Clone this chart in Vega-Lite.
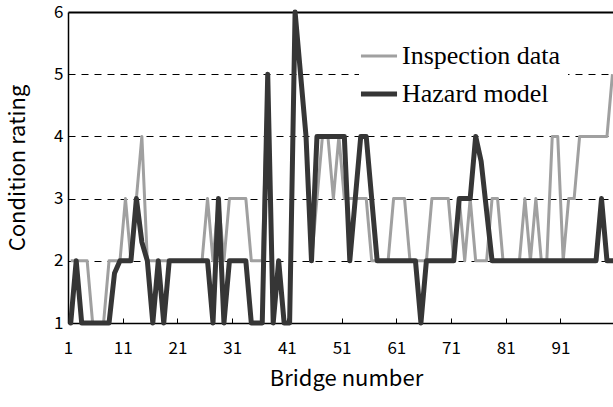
{
  "$schema": "https://vega.github.io/schema/vega-lite/v6.json",
  "width": 545,
  "height": 311,
  "autosize": {"type": "none"},
  "padding": {"left": 68, "top": 12, "right": 0, "bottom": 84},
  "background": "white",
  "config": {
    "view": {"stroke": null},
    "axis": {
      "labelFont": "Noto Sans CJK JP",
      "titleFont": "Noto Sans CJK JP",
      "labelColor": "black",
      "titleColor": "black",
      "titleFontWeight": "normal",
      "domainColor": "black",
      "domainWidth": 1.5,
      "tickColor": "black"
    }
  },
  "datasets": {
    "insp": [2,2,2,2,1,1,1,2,2,2,3,2,3,4,2,2,2,2,2,2,2,2,2,2,2,3,2,3,2,3,3,3,3,2,2,2,5,1,2,1,1,6,5,4,2,3,4,4,3,4,3,3,3,3,3,2,2,2,2,3,3,3,2,2,2,2,3,3,3,3,2,3,2,3,2,2,2,3,3,2,2,2,2,3,2,3,2,2,4,4,2,3,3,4,4,4,4,4,4,5],
    "haz": [1,2,1,1,1,1,1,1,1.8,2,2,2,3,2.3,2,1,2,1,2,2,2,2,2,2,2,2,1,3,1,2,2,2,2,1,1,1,5,1,2,1,1,6,5,4,2,4,4,4,4,4,4,2,3,4,4,3,2,2,2,2,2,2,2,2,1,2,2,2,2,2,2,3,3,3,4,3.6,2.8,2,2,2,2,2,2,2,2,2,2,2,2,2,2,2,2,2,2,2,2,3,2,2]
  },
  "data": {"name": "insp"},
  "transform": [
    {"window": [{"op": "row_number", "as": "bridge"}]},
    {"calculate": "'Inspection data'", "as": "series"},
    {"calculate": "datum.data", "as": "rating"}
  ],
  "layer": [
    {
      "mark": {"type": "line", "strokeWidth": 3, "strokeJoin": "round", "clip": false},
      "encoding": {
        "x": {
          "field": "bridge", "type": "quantitative",
          "scale": {"domain": [0.5, 100.1], "nice": false, "zero": false},
          "axis": {
            "values": [0.5, 10.5, 20.5, 30.5, 40.5, 50.5, 60.5, 70.5, 80.5, 90.5],
            "labelExpr": "datum.value + 0.5",
            "title": "Bridge number",
            "grid": false,
            "tickSize": -5,
            "labelPadding": 22,
            "labelDx": 5,
            "labelFlush": false,
            "labelOverlap": false,
            "labelFontSize": 17,
            "titleFontSize": 22,
            "titlePadding": 12,
            "titleX": 278
          }
        },
        "y": {
          "field": "rating", "type": "quantitative",
          "scale": {"domain": [1, 6], "nice": false, "zero": false},
          "axis": {
            "values": [1, 2, 3, 4, 5, 6],
            "format": "d",
            "title": "Condition rating",
            "ticks": false,
            "labelPadding": 5,
            "labelFontSize": 17,
            "titleFontSize": 22,
            "titlePadding": 24,
            "grid": true,
            "gridColor": "black",
            "gridOpacity": 1,
            "gridWidth": {"condition": {"test": "datum.value === 6", "value": 2}, "value": 1},
            "gridDash": {"condition": {"test": "datum.value === 6", "value": []}, "value": [7, 6]}
          }
        },
        "color": {
          "field": "series", "type": "nominal",
          "scale": {"domain": ["Inspection data", "Hazard model"], "range": ["#a0a0a0", "#363636"]},
          "legend": {
            "orient": "none",
            "legendX": 291,
            "legendY": 24,
            "title": null,
            "padding": 7,
            "fillColor": "white",
            "strokeColor": null,
            "symbolType": "stroke",
            "symbolSize": 1300,
            "labelFont": "Liberation Serif",
            "labelFontSize": 26,
            "labelColor": "black",
            "labelOffset": 10,
            "rowPadding": 12,
            "labelLimit": 300,
            "encode": {
              "symbols": {"update": {"strokeWidth": {"signal": "datum.value === 'Hazard model' ? 5 : 3"}}}
            }
          }
        }
      }
    },
    {
      "data": {"name": "haz"},
      "transform": [
        {"window": [{"op": "row_number", "as": "bridge"}]},
        {"calculate": "'Hazard model'", "as": "series"},
        {"calculate": "datum.data", "as": "rating"}
      ],
      "mark": {"type": "line", "strokeWidth": 5, "strokeJoin": "round", "strokeCap": "round", "clip": false},
      "encoding": {
        "x": {"field": "bridge", "type": "quantitative"},
        "y": {"field": "rating", "type": "quantitative"},
        "color": {"field": "series", "type": "nominal"}
      }
    }
  ]
}
